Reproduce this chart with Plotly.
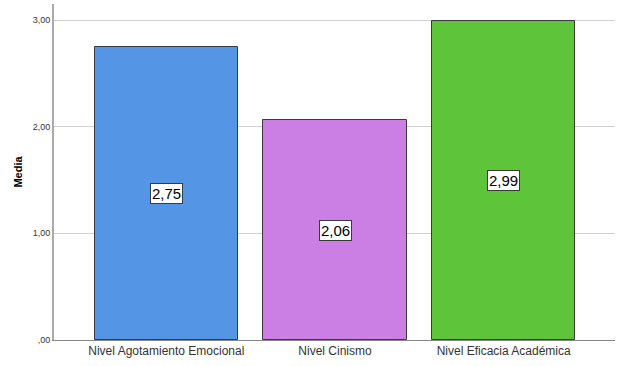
import plotly.graph_objects as go

categories = ["Nivel Agotamiento Emocional", "Nivel Cinismo", "Nivel Eficacia Académica"]
means = [2.75, 2.06, 2.99]
mean_labels = ["2,75", "2,06", "2,99"]
bar_colors = ["#5595E6", "#CB7FE4", "#5EC43A"]
y_tickvals = [0, 1, 2, 3]
y_ticktext = [",00", "1,00", "2,00", "3,00"]

fig = go.Figure()
fig.add_trace(go.Bar(
    x=categories, y=means, width=0.85,
    marker=dict(color=bar_colors, line=dict(color="#3a3a3a", width=1)),
    hoverinfo="skip",
))

for c, v, t in zip(categories, means, mean_labels):
    fig.add_annotation(
        x=c, y=v / 2, text=t, showarrow=False,
        font=dict(family="Arial, Liberation Sans", size=15, color="#000"),
        bgcolor="white", bordercolor="#3a3a3a", borderwidth=1, borderpad=1,
    )

fig.update_layout(
    width=623, height=366,
    margin=dict(l=54, r=8, t=4, b=26),
    plot_bgcolor="white", paper_bgcolor="white",
    showlegend=False,
    font=dict(family="Arial, Liberation Sans", color="#222"),
    bargap=0,
)
fig.update_xaxes(
    range=[-0.666, 2.66],
    showline=True, linecolor="#888", linewidth=1,
    showgrid=False, ticks="",
    tickfont=dict(size=12, color="#333"),
)
fig.update_yaxes(
    range=[0, 3.15],
    tickvals=y_tickvals, ticktext=y_ticktext,
    showline=True, linecolor="#aaa", linewidth=2,
    showgrid=True, gridcolor="#d0d0d0", gridwidth=1,
    zeroline=False, ticks="",
    tickfont=dict(size=9, color="#333"),
    title=dict(text="<b>Media</b>", font=dict(size=11, color="#000"), standoff=8),
)

fig.write_html("out.html", config={"displayModeBar": False},
               post_script="document.body.style.margin='0';")
